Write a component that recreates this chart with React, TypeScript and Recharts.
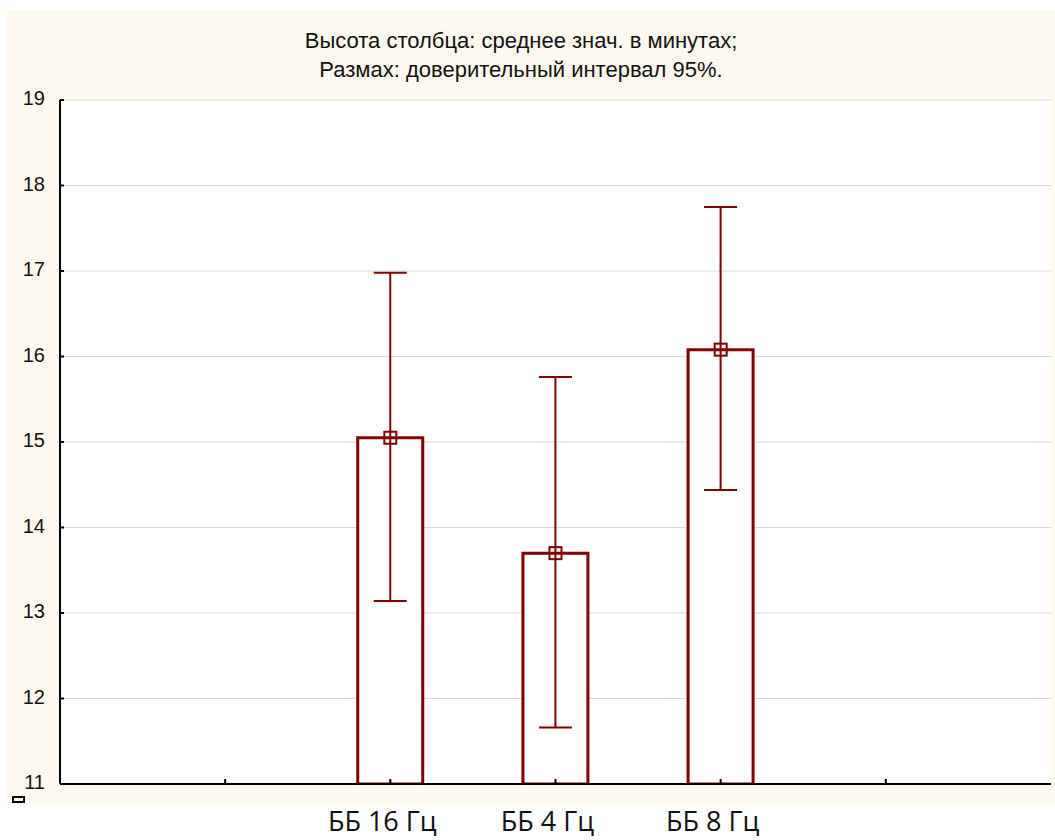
import React from 'react'
import {
  ComposedChart,
  Bar,
  ErrorBar,
  Scatter,
  XAxis,
  YAxis,
  CartesianGrid,
} from 'recharts'

// means with 95% confidence limits, minutes
const categories = ['ББ 16 Гц', 'ББ 4 Гц', 'ББ 8 Гц']
const means = [15.05, 13.7, 16.08]
const ciLow = [13.14, 11.66, 14.44]
const ciHigh = [16.98, 15.76, 17.75]

const yTicks = [11, 12, 13, 14, 15, 16, 17, 18, 19]
const xTicks = [1, 2, 3, 4, 5]
// groups sit on the middle slots of a 0..6 axis
const FIRST_SLOT = 2

const titleLines = ['Высота столбца: среднее знач. в минутах;', 'Размах: доверительный интервал 95%.']

const DARK_RED = '#800000'
const CREAM = '#fef9ee'
const SANS = '"Liberation Sans", Arial, sans-serif'

const data = categories.map((name, i) => ({
  name,
  x: FIRST_SLOT + i,
  mean: means[i],
  err: [means[i] - ciLow[i], ciHigh[i] - means[i]],
}))

const BottomTick = (props: any) => {
  const { x, y, payload } = props
  const label = categories[payload.value - FIRST_SLOT] ?? ''
  return (
    <g>
      <line x1={x} x2={x} y1={y} y2={y - 5} stroke="#000" strokeWidth={2} />
      <text
        x={x - 8}
        y={y + 47}
        textAnchor="middle"
        fill="#111"
        style={{ fontFamily: '"Open Sans", sans-serif', fontSize: 27 }}
      >
        {label}
      </text>
    </g>
  )
}

const TopTick = (props: any) => {
  const { x, y } = props
  return <line x1={x} x2={x} y1={y} y2={y + 5} stroke="#000" strokeWidth={2} />
}

const LeftTick = (props: any) => {
  const { x, y, payload } = props
  return (
    <g>
      <line x1={x} x2={x + 4} y1={y} y2={y} stroke="#000" strokeWidth={2} />
      <text
        x={x - 15}
        y={y + 5}
        textAnchor="end"
        fill="#111"
        style={{ fontFamily: SANS, fontSize: 20 }}
      >
        {payload.value}
      </text>
    </g>
  )
}

const RightTick = (props: any) => {
  const { x, y } = props
  return <line x1={x} x2={x - 5} y1={y} y2={y} stroke="#000" strokeWidth={2} />
}

const MeanMarker = (props: any) => {
  const { cx, cy } = props
  return (
    <rect x={cx - 6} y={cy - 6} width={12} height={12} fill="none" stroke={DARK_RED} strokeWidth={2} />
  )
}

export default function App() {
  return (
    <div style={{ position: 'absolute', left: 0, top: 0, width: 1055, height: 840 }}>
      <div
        style={{
          position: 'absolute',
          left: 7,
          top: 10,
          width: 1048,
          height: 795,
          background: CREAM,
        }}
      />
      <div
        style={{
          position: 'absolute',
          left: 0,
          top: 26,
          width: 1042,
          textAlign: 'center',
          fontFamily: SANS,
          fontSize: 22,
          lineHeight: '29px',
          color: '#111',
        }}
      >
        {titleLines.map((line) => (
          <div key={line}>{line}</div>
        ))}
      </div>
      <div
        style={{
          position: 'absolute',
          left: 12,
          top: 796,
          width: 9,
          height: 3,
          border: '2px solid #000',
        }}
      />
      <div style={{ position: 'absolute', left: 0, top: 0 }}>
        <ComposedChart
          width={1055}
          height={840}
          data={data}
          margin={{ top: 100, right: 4, bottom: 0, left: 0 }}
        >
          <CartesianGrid horizontal vertical={false} stroke="#dadada" strokeWidth={1} fill="#fff" />
          <XAxis
            dataKey="x"
            type="number"
            domain={[0, 6]}
            ticks={xTicks}
            interval={0}
            height={56}
            tickSize={0}
            tickMargin={0}
            tick={<BottomTick />}
            axisLine={{ stroke: '#000', strokeWidth: 2 }}
            allowDataOverflow
          />
          <XAxis
            xAxisId="top"
            orientation="top"
            dataKey="x"
            type="number"
            domain={[0, 6]}
            ticks={xTicks}
            interval={0}
            height={0}
            tickSize={0}
            tickMargin={0}
            tick={<TopTick />}
            axisLine={{ stroke: '#000', strokeWidth: 2 }}
          />
          <YAxis
            type="number"
            domain={[11, 19]}
            ticks={yTicks}
            interval={0}
            width={60}
            tickSize={0}
            tickMargin={0}
            tick={<LeftTick />}
            axisLine={{ stroke: '#000', strokeWidth: 2 }}
            allowDataOverflow
          />
          <YAxis
            yAxisId="right"
            orientation="right"
            type="number"
            domain={[11, 19]}
            ticks={yTicks}
            interval={0}
            width={0}
            tickSize={0}
            tickMargin={0}
            tick={<RightTick />}
            axisLine={{ stroke: '#000', strokeWidth: 2 }}
          />
          <Bar
            dataKey="mean"
            barSize={65}
            fill="#fff"
            stroke={DARK_RED}
            strokeWidth={3}
            isAnimationActive={false}
          >
            <ErrorBar dataKey="err" width={16.5} stroke={DARK_RED} strokeWidth={2} direction="y" />
          </Bar>
          <Scatter dataKey="mean" shape={<MeanMarker />} isAnimationActive={false} />
        </ComposedChart>
      </div>
    </div>
  )
}
